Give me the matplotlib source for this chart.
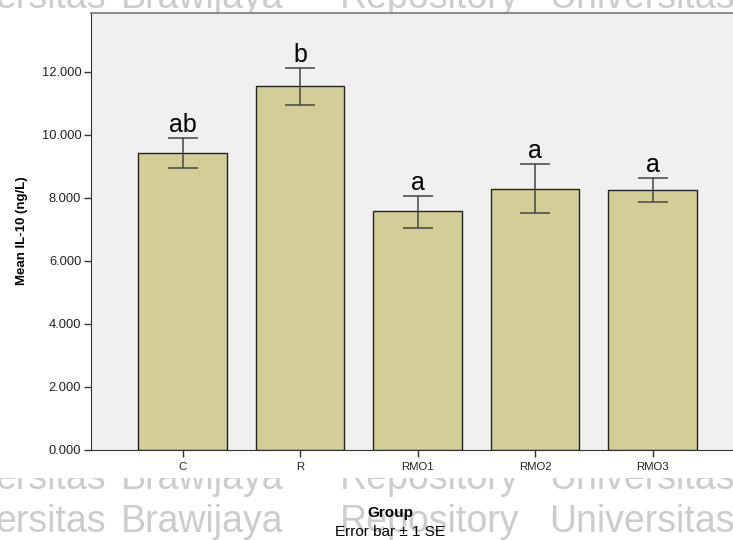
import matplotlib.pyplot as plt
from matplotlib.transforms import Bbox, TransformedBbox

# Mean IL-10 per group, with +/- 1 SE
groups = ['C', 'R', 'RMO1', 'RMO2', 'RMO3']
means = [9.42, 11.56, 7.57, 8.29, 8.25]
err_hi = [9.89, 12.14, 8.07, 9.07, 8.64]
err_lo = [8.96, 10.95, 7.06, 7.51, 7.87]
letters = ['ab', 'b', 'a', 'a', 'a']
yticks = [0, 2, 4, 6, 8, 10, 12]

plt.rcParams['font.family'] = ['Liberation Sans', 'DejaVu Sans']

fig = plt.figure(figsize=(7.33, 5.40), dpi=100)
W, H = 733, 540

# watermark behind the chart (only the uncovered parts show)
wm = '#cccccc'
wm_words = [(51, 'ersitas'), (202, 'Brawijaya'), (430, 'Repository'), (642, 'Universitas')]
# baseline, visible band (pixels from top)
wm_rows = [(532, 478, 540), (489, 478, 540), (8, 0, 12)]
for base, top, bottom in wm_rows:
    box = TransformedBbox(Bbox([[0, 1 - bottom / H], [1, 1 - top / H]]), fig.transFigure)
    for xc, s in wm_words:
        t = fig.text(xc / W, 1 - base / H, s, fontsize=27, color=wm, ha='center', va='baseline')
        t.set_clip_box(box)

ax = fig.add_axes([91 / W, 1 - 450 / H, 1 - 91 / W, (450 - 13) / H])
ax.set_facecolor('#f0f0f0')

x = list(range(len(groups)))
ax.bar(x, means, width=0.757, color='#d3ce97', edgecolor='#222222', linewidth=1, zorder=2)

lo = [m - l for m, l in zip(means, err_lo)]
hi = [h - m for m, h in zip(means, err_hi)]
ax.errorbar(x, means, yerr=[lo, hi], fmt='none', ecolor='#444444',
            elinewidth=1.1, capsize=10.5, capthick=1.1, zorder=3)

for xi, h, s in zip(x, err_hi, letters):
    ax.text(xi, h + 0.03, s, ha='center', va='bottom', fontsize=18, color='black')

ax.set_xlim(-0.779, 4.685)
ax.set_ylim(0, 13.87)
ax.set_xticks(x)
ax.set_xticklabels(groups, fontsize=8.2, color='#222222')
ax.set_yticks(yticks)
ax.set_yticklabels(['%.3f' % v for v in yticks], fontsize=9.3, color='#222222')
ax.tick_params(axis='y', length=5, width=1, color='#333333', pad=2)
ax.tick_params(axis='x', length=5, width=1, color='#333333', pad=4)

ax.spines['right'].set_visible(False)
ax.spines['top'].set_color('#777777')
ax.spines['top'].set_linewidth(1.2)
ax.spines['left'].set_color('#333333')
ax.spines['bottom'].set_color('#333333')

fig.text(22 / W, 1 - 231 / H, 'Mean IL-10 (ng/L)', rotation=90, ha='center', va='center',
         fontsize=9.5, fontweight='bold')
fig.text(390 / W, 1 - 513 / H, 'Group', ha='center', va='center', fontsize=11, fontweight='bold')
fig.text(390 / W, 1 - 532 / H, 'Error bar \u00b1 1 SE', ha='center', va='center', fontsize=11)

fig.savefig('out.png', dpi=100)
